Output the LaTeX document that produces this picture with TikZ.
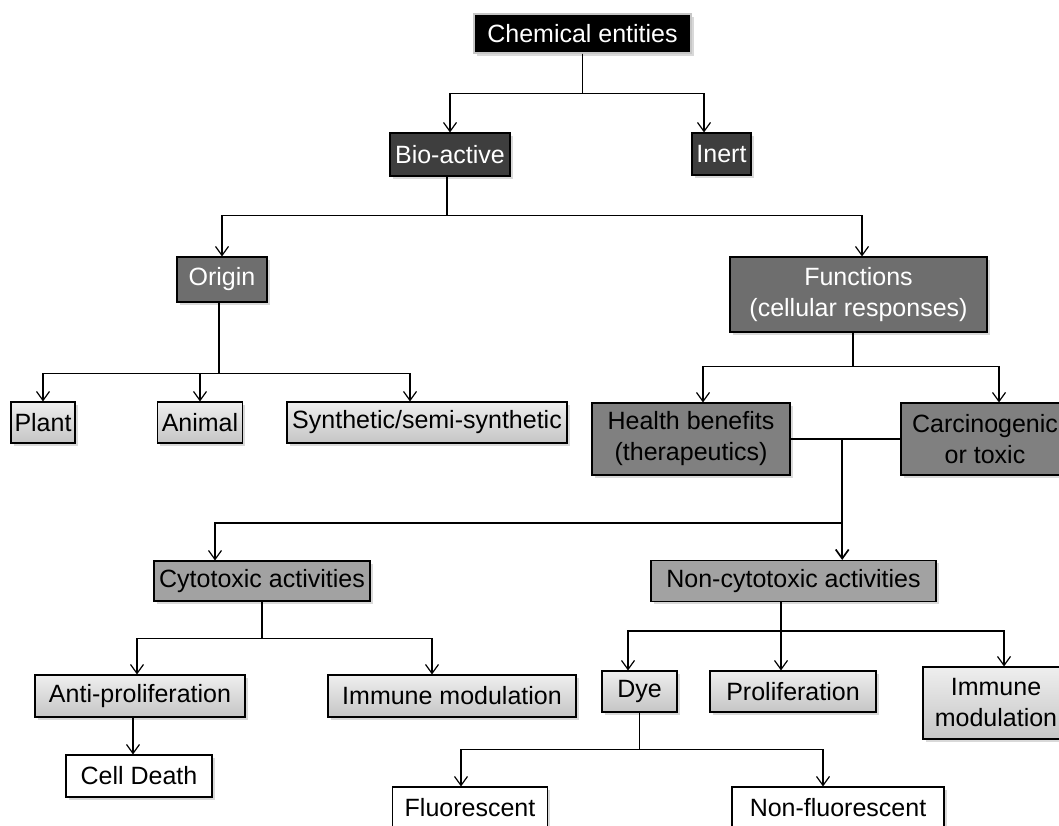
\documentclass[tikz,border=0pt]{standalone}
\usepackage{fontspec}
\setmainfont{Liberation Sans}
\usetikzlibrary{arrows.meta,shadows}
\definecolor{darkbox}{RGB}{62,62,62}
\definecolor{midbox}{RGB}{110,110,110}
\definecolor{greybox}{RGB}{128,128,128}
\definecolor{lightbox}{RGB}{162,162,162}
\definecolor{palebox}{RGB}{214,214,214}
\tikzset{
  tbox/.style={draw=black, fill=#1, line width=1.1pt, align=center, inner sep=0pt,
    font=\fontsize{25}{31}\selectfont,
    drop shadow={shadow xshift=2.5pt, shadow yshift=-2.5pt, opacity=0.3}},
  pale/.style={tbox=palebox, top color=palebox!40!white, bottom color=palebox!92!black},
  arrow/.style={-{Straight Barb[length=9pt,width=13pt]}, line width=1.2pt},
  link/.style={line width=1.2pt}
}

\begin{document}
\begin{tikzpicture}[x=1pt, y=-1pt]
  \useasboundingbox (0,0) rectangle (1059,825);
  \node[tbox=black, draw=gray!45, text=white, minimum width=217, minimum height=39] (chem) at (582.5,33.5) {Chemical entities};
  \node[tbox=darkbox, text=white, minimum width=120, minimum height=43] (bio) at (450,154.5) {Bio-active};
  \node[tbox=darkbox, text=white, minimum width=59, minimum height=42] (inert) at (721.5,154) {Inert};
  \node[tbox=midbox, text=white, minimum width=90, minimum height=45] (origin) at (222,279.5) {Origin};
  \node[tbox=midbox, text=white, minimum width=257, minimum height=75] (func) at (858.5,294.5) {Functions\\(cellular responses)};
  \node[pale, minimum width=64, minimum height=41] (plant) at (43,422.5) {Plant};
  \node[pale, minimum width=85, minimum height=41] (animal) at (200,422.5) {Animal};
  \node[pale, minimum width=280, minimum height=41] (synth) at (427,422.5) {Synthetic/semi-synthetic};
  \node[tbox=greybox, minimum width=198, minimum height=72] (health) at (691,439) {Health benefits\\(therapeutics)};
  \node[tbox=greybox, minimum width=168, minimum height=72] (carc) at (985,439) {Carcinogenic\\or toxic};
  \node[tbox=lightbox, minimum width=216, minimum height=40] (cyto) at (262,581) {Cytotoxic activities};
  \node[tbox=lightbox, minimum width=285, minimum height=41] (nonc) at (793.5,581) {Non-cytotoxic activities};
  \node[pale, minimum width=210, minimum height=42] (antip) at (140,696) {Anti-proliferation};
  \node[pale, minimum width=248, minimum height=42] (imm1) at (452,696) {Immune modulation};
  \node[pale, minimum width=75, minimum height=41] (dye) at (639.5,691.5) {Dye};
  \node[pale, minimum width=166, minimum height=41] (prolif) at (793,691.5) {Proliferation};
  \node[pale, minimum width=146, minimum height=72] (imm2) at (996,703) {Immune\\modulation};
  \node[tbox=white, minimum width=146, minimum height=42] (cell) at (139,776) {Cell Death};
  \node[tbox=white, minimum width=155, minimum height=42] (fluor) at (470,808) {Fluorescent};
  \node[tbox=white, minimum width=212, minimum height=42] (nonfl) at (838,808) {Non-fluorescent};
  \draw[arrow] (chem.south) -- ++(0,40) -| (bio.north);
  \draw[arrow] (chem.south) -- ++(0,40) -| ([xshift=-17.5pt]inert.north);
  \draw[arrow] ([xshift=-3pt]bio.south) -- ++(0,39) -| (origin.north);
  \draw[arrow] ([xshift=-3pt]bio.south) -- ++(0,39) -| ([xshift=3.5pt]func.north);
  \draw[arrow] ([xshift=-3pt]origin.south) -- ++(0,71) -| (plant.north);
  \draw[arrow] ([xshift=-3pt]origin.south) -- ++(0,71) -| (animal.north);
  \draw[arrow] ([xshift=-3pt]origin.south) -- ++(0,71) -| ([xshift=-17pt]synth.north);
  \draw[arrow] ([xshift=-5.5pt]func.south) -- ++(0,34) -| ([xshift=12pt]health.north);
  \draw[arrow] ([xshift=-5.5pt]func.south) -- ++(0,34) -| ([xshift=14pt]carc.north);
  \draw[link] (health.east) -- coordinate[pos=0.47] (hc) (carc.west);
  \draw[arrow, line width=1.7pt] (hc) -- (hc |- nonc.north);
  \draw[arrow] (hc) -- ++(0,84) -| ([xshift=-47pt]cyto.north);
  \draw[arrow] (cyto.south) -- ++(0,37) -| ([xshift=-3pt]antip.north);
  \draw[arrow] (cyto.south) -- ++(0,37) -| ([xshift=-20pt]imm1.north);
  \draw[arrow] ([xshift=-7pt]antip.south) -- ([xshift=-6pt]cell.north);
  \draw[arrow] ([xshift=-12.5pt]nonc.south) -- ++(0,29) -| ([xshift=-11.5pt]dye.north);
  \draw[arrow] ([xshift=-12.5pt]nonc.south) -- ++(0,29) -| ([xshift=-12pt]prolif.north);
  \draw[arrow] ([xshift=-12.5pt]nonc.south) -- ++(0,29) -| ([xshift=8pt]imm2.north);
  \draw[arrow] (dye.south) -- ++(0,37) -| ([xshift=-9pt]fluor.north);
  \draw[arrow] (dye.south) -- ++(0,37) -| ([xshift=-15pt]nonfl.north);
\end{tikzpicture}
\end{document}
